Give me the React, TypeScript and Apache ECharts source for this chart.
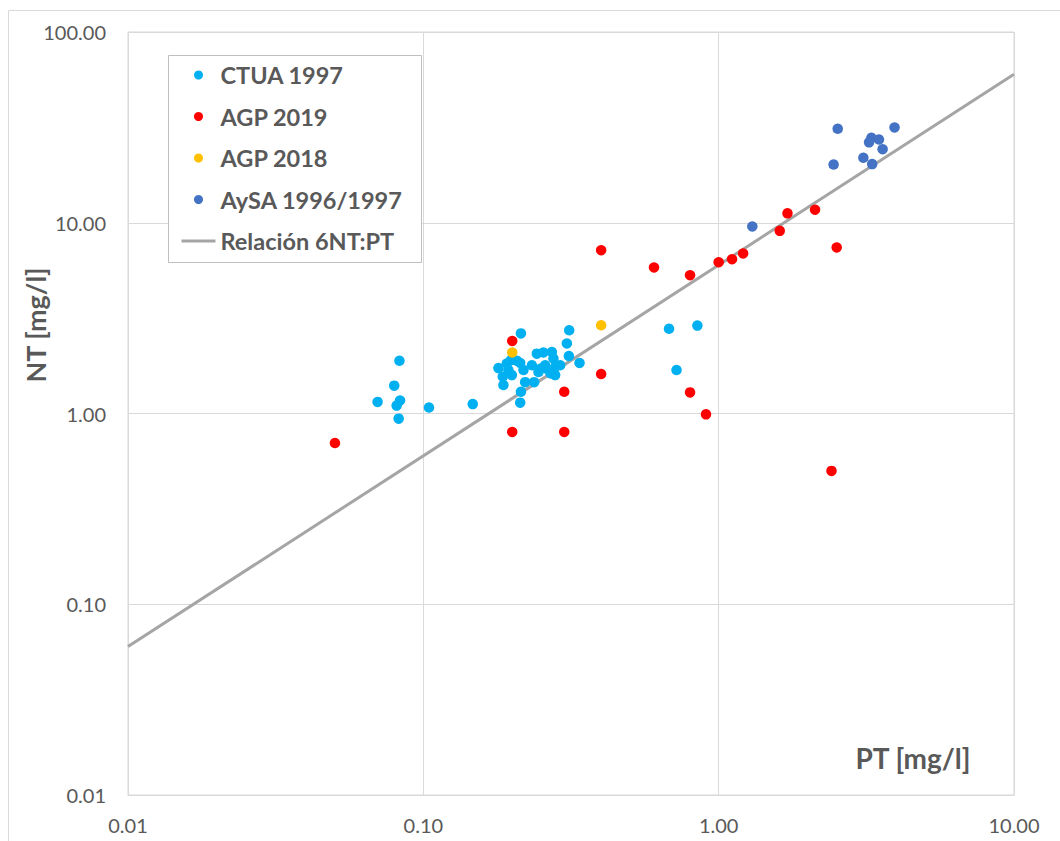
import React, { useEffect, useRef } from "react";
import * as echarts from "echarts";

const ctuaPT = [0.214, 0.3118, 0.3062, 0.311, 0.338, 0.1796, 0.1917, 0.1978, 0.2073, 0.2128, 0.1858, 0.1867, 0.1941, 0.1994, 0.2183, 0.2212, 0.2373, 0.2331, 0.2423, 0.2551, 0.2454, 0.2585, 0.2724, 0.2758, 0.2652, 0.2795, 0.2906, 0.28, 0.214, 0.2128, 0.083, 0.0797, 0.07, 0.0834, 0.0812, 0.0825, 0.1045, 0.147, 0.679, 0.847, 0.72, 0.27, 0.25];
const ctuaNT = [2.63, 2.73, 2.33, 2.0, 1.84, 1.73, 1.83, 1.9, 1.89, 1.84, 1.56, 1.41, 1.69, 1.59, 1.69, 1.46, 1.46, 1.79, 2.06, 2.09, 1.65, 1.79, 2.1, 1.94, 1.69, 1.59, 1.79, 1.76, 1.3, 1.14, 1.89, 1.4, 1.15, 1.17, 1.1, 0.94, 1.075, 1.12, 2.78, 2.89, 1.69, 1.62, 1.72];

const agp2019PT = [0.0502, 0.2, 0.2, 0.3, 0.3, 0.4, 0.4, 0.604, 0.8, 1.0, 1.11, 1.21, 1.61, 1.71, 2.12, 2.51, 0.8, 0.906, 2.41];
const agp2019NT = [0.7, 2.4, 0.8, 1.3, 0.8, 7.18, 1.61, 5.83, 5.31, 6.21, 6.44, 6.9, 9.07, 11.2, 11.7, 7.42, 1.29, 0.99, 0.5];

const agp2018PT = [0.2, 0.4];
const agp2018NT = [2.09, 2.9];

const aysaPT = [2.53, 3.94, 3.29, 3.49, 3.23, 3.59, 3.09, 3.31, 2.45, 1.3];
const aysaNT = [31.1, 31.6, 27.9, 27.3, 26.4, 24.3, 21.9, 20.3, 20.2, 9.56];

const relPT = [0.01, 10];
const relNT = [0.06, 60];

const seriesNames = ["CTUA 1997", "AGP 2019", "AGP 2018", "AySA 1996/1997", "Relación 6NT:PT"];
const seriesColors = ["#00B0F0", "#FF0000", "#FFC000", "#4472C4", "#A5A5A5"];

const zip = (xs: number[], ys: number[]) => xs.map((x, i) => [x, ys[i]]);

const FONT = "Lato, 'Open Sans', sans-serif";
const TXT = "#595959";
const GRID = "#D9D9D9";

export default function App() {
  const ref = useRef<HTMLDivElement>(null);
  useEffect(() => {
    if (!ref.current) return;
    const chart = echarts.init(ref.current, undefined, { renderer: "svg" });
    const scatter = (i: number, data: number[][]) => ({
      name: seriesNames[i],
      type: "scatter",
      data,
      symbol: "circle",
      symbolSize: 10.5,
      itemStyle: { color: seriesColors[i], opacity: 1 },
      z: 3,
    });
    chart.setOption({
      animation: false,
      backgroundColor: "#FFFFFF",
      textStyle: { fontFamily: FONT },
      grid: {
        left: 128,
        top: 32,
        right: 46,
        bottom: 46,
        show: true,
        borderColor: GRID,
        borderWidth: 1,
      },
      xAxis: {
        type: "log",
        logBase: 10,
        min: 0.01,
        max: 10,
        axisLine: { show: true, lineStyle: { color: GRID } },
        axisTick: { show: false },
        splitLine: { show: true, lineStyle: { color: GRID, width: 1 } },
        minorTick: { show: false },
        axisLabel: {
          formatter: (v: number) => v.toFixed(2),
          color: TXT,
          fontSize: 20,
          fontFamily: FONT,
          margin: 20,
        },
      },
      yAxis: {
        type: "log",
        logBase: 10,
        min: 0.01,
        max: 100,
        axisLine: { show: true, lineStyle: { color: GRID } },
        axisTick: { show: false },
        splitLine: { show: true, lineStyle: { color: GRID, width: 1 } },
        axisLabel: {
          formatter: (v: number) => v.toFixed(2),
          color: TXT,
          fontSize: 20,
          fontFamily: FONT,
          margin: 22,
        },
      },
      legend: {
        orient: "vertical",
        left: 180,
        top: 62,
        itemWidth: 34,
        itemHeight: 9,
        itemGap: 15.5,
        padding: 0,
        z: 10,
        data: seriesNames.map((n, i) =>
          i < 4
            ? { name: n, icon: "circle" }
            : { name: n, itemStyle: { opacity: 0 }, lineStyle: { width: 3, color: seriesColors[4] } }
        ),
        textStyle: {
          color: TXT,
          fontSize: 23.5,
          fontWeight: "bold",
          fontFamily: FONT,
          lineHeight: 26,
        },
      },
      graphic: [
        {
          type: "rect",
          shape: { x: 8.5, y: 10.5, width: 1100, height: 900 },
          style: { fill: "none", stroke: GRID, lineWidth: 1 },
          silent: true,
          z: -10,
        },
        {
          type: "rect",
          shape: { x: 168.5, y: 55.5, width: 253, height: 207 },
          style: { fill: "#FFFFFF", stroke: "#BFBFBF", lineWidth: 1 },
          silent: true,
          z: 1,
        },
        {
          type: "text",
          x: 35,
          y: 325,
          rotation: Math.PI / 2,
          style: {
            text: "NT [mg/l]",
            fill: TXT,
            fontSize: 27,
            fontWeight: "bold",
            fontFamily: FONT,
            align: "center",
            verticalAlign: "middle",
          },
          z: 5,
        },
        {
          type: "text",
          x: 913,
          y: 758,
          style: {
            text: "PT [mg/l]",
            fill: TXT,
            fontSize: 28,
            fontWeight: "bold",
            fontFamily: FONT,
            align: "center",
            verticalAlign: "middle",
          },
          z: 5,
        },
      ],
      series: [
        {
          name: seriesNames[4],
          type: "line",
          data: zip(relPT, relNT),
          symbol: "none",
          showSymbol: false,
          lineStyle: { color: seriesColors[4], width: 3 },
          itemStyle: { color: seriesColors[4] },
          z: 2,
        },
        scatter(0, zip(ctuaPT, ctuaNT)),
        scatter(1, zip(agp2019PT, agp2019NT)),
        scatter(2, zip(agp2018PT, agp2018NT)),
        scatter(3, zip(aysaPT, aysaNT)),
      ],
    });
    return () => chart.dispose();
  }, []);
  return <div ref={ref} style={{ width: 1060, height: 841, position: "absolute", left: 0, top: 0 }} />;
}
